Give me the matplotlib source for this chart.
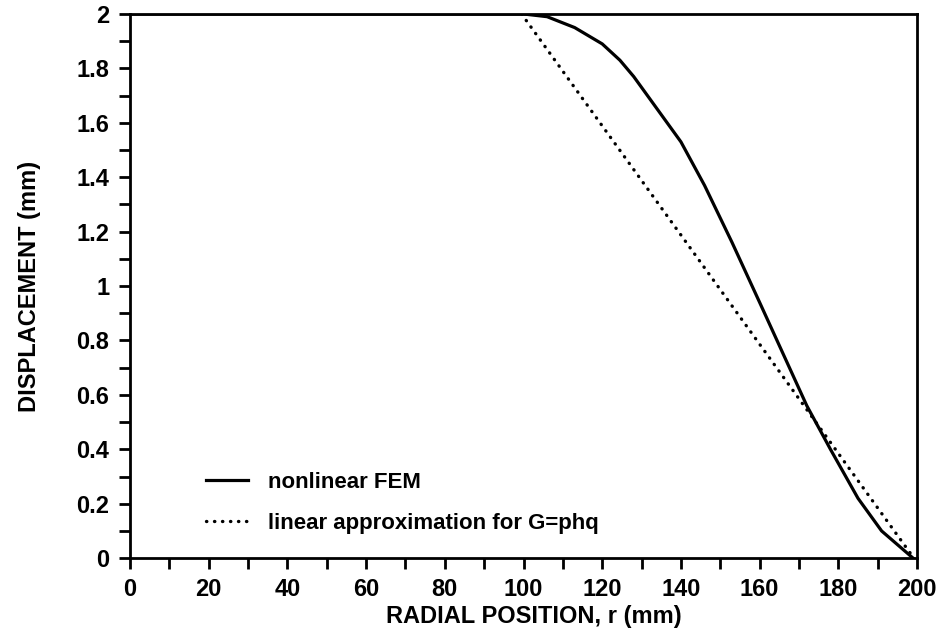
import numpy as np
import matplotlib
matplotlib.use("Agg")
import matplotlib.pyplot as plt
import matplotlib.ticker as ticker

plt.rcParams["font.family"] = ["Liberation Sans", "DejaVu Sans"]

# nonlinear FEM curve
r_fem = [0, 20, 40, 60, 80, 100, 106, 113, 120, 124.5, 128, 132, 136, 140,
         146, 153, 160, 166, 172, 178, 185, 191, 199]
u_fem = [2.0, 2.0, 2.0, 2.0, 2.0, 2.0, 1.99, 1.95, 1.89, 1.83, 1.77, 1.69,
         1.61, 1.53, 1.37, 1.16, 0.94, 0.75, 0.56, 0.40, 0.22, 0.10, 0.0]

# linear approximation for G=phq
r_lin = [99.5, 199.2]
u_lin = [2.0, 0.0]

fig = plt.figure(figsize=(9.42, 6.35), dpi=100)
ax = fig.add_axes([0.138, 0.121, 0.8355, 0.857])

ax.plot(r_fem, u_fem, color="black", lw=2.3, ls="-", label="nonlinear FEM")
ax.plot(r_lin, u_lin, color="black", lw=2.4, ls=(0, (0.1, 2.3)),
        dash_capstyle="round", label="linear approximation for G=phq")

ax.set_xlim(0, 200)
ax.set_ylim(0, 2)
ax.xaxis.set_major_locator(ticker.MultipleLocator(20))
ax.xaxis.set_minor_locator(ticker.MultipleLocator(10))
ax.yaxis.set_major_locator(ticker.MultipleLocator(0.2))
ax.yaxis.set_minor_locator(ticker.MultipleLocator(0.1))
fmt = ticker.FuncFormatter(lambda v, p: "%g" % round(v, 2))
ax.xaxis.set_major_formatter(fmt)
ax.yaxis.set_major_formatter(fmt)
ax.tick_params(axis="both", which="both", direction="out", width=2,
               length=8, top=False, right=False)
ax.tick_params(axis="y", which="major", labelsize=17, pad=7)
ax.tick_params(axis="x", which="major", labelsize=17, pad=6)
for lab in ax.get_xticklabels() + ax.get_yticklabels():
    lab.set_fontweight("bold")
for sp in ax.spines.values():
    sp.set_linewidth(2)

ax.set_xlabel("RADIAL POSITION, r (mm)", fontsize=17, fontweight="bold",
              labelpad=3)
ax.xaxis.label.set_x(0.513)
ax.set_ylabel("DISPLACEMENT (mm)", fontsize=17, fontweight="bold",
              labelpad=25)

leg = ax.legend(loc="lower left", bbox_to_anchor=(0.071, 0.008), frameon=False,
                fontsize=16, handlelength=1.9, handletextpad=0.9,
                labelspacing=0.9)
for t in leg.get_texts():
    t.set_fontweight("bold")

fig.savefig("out.png", dpi=100)
